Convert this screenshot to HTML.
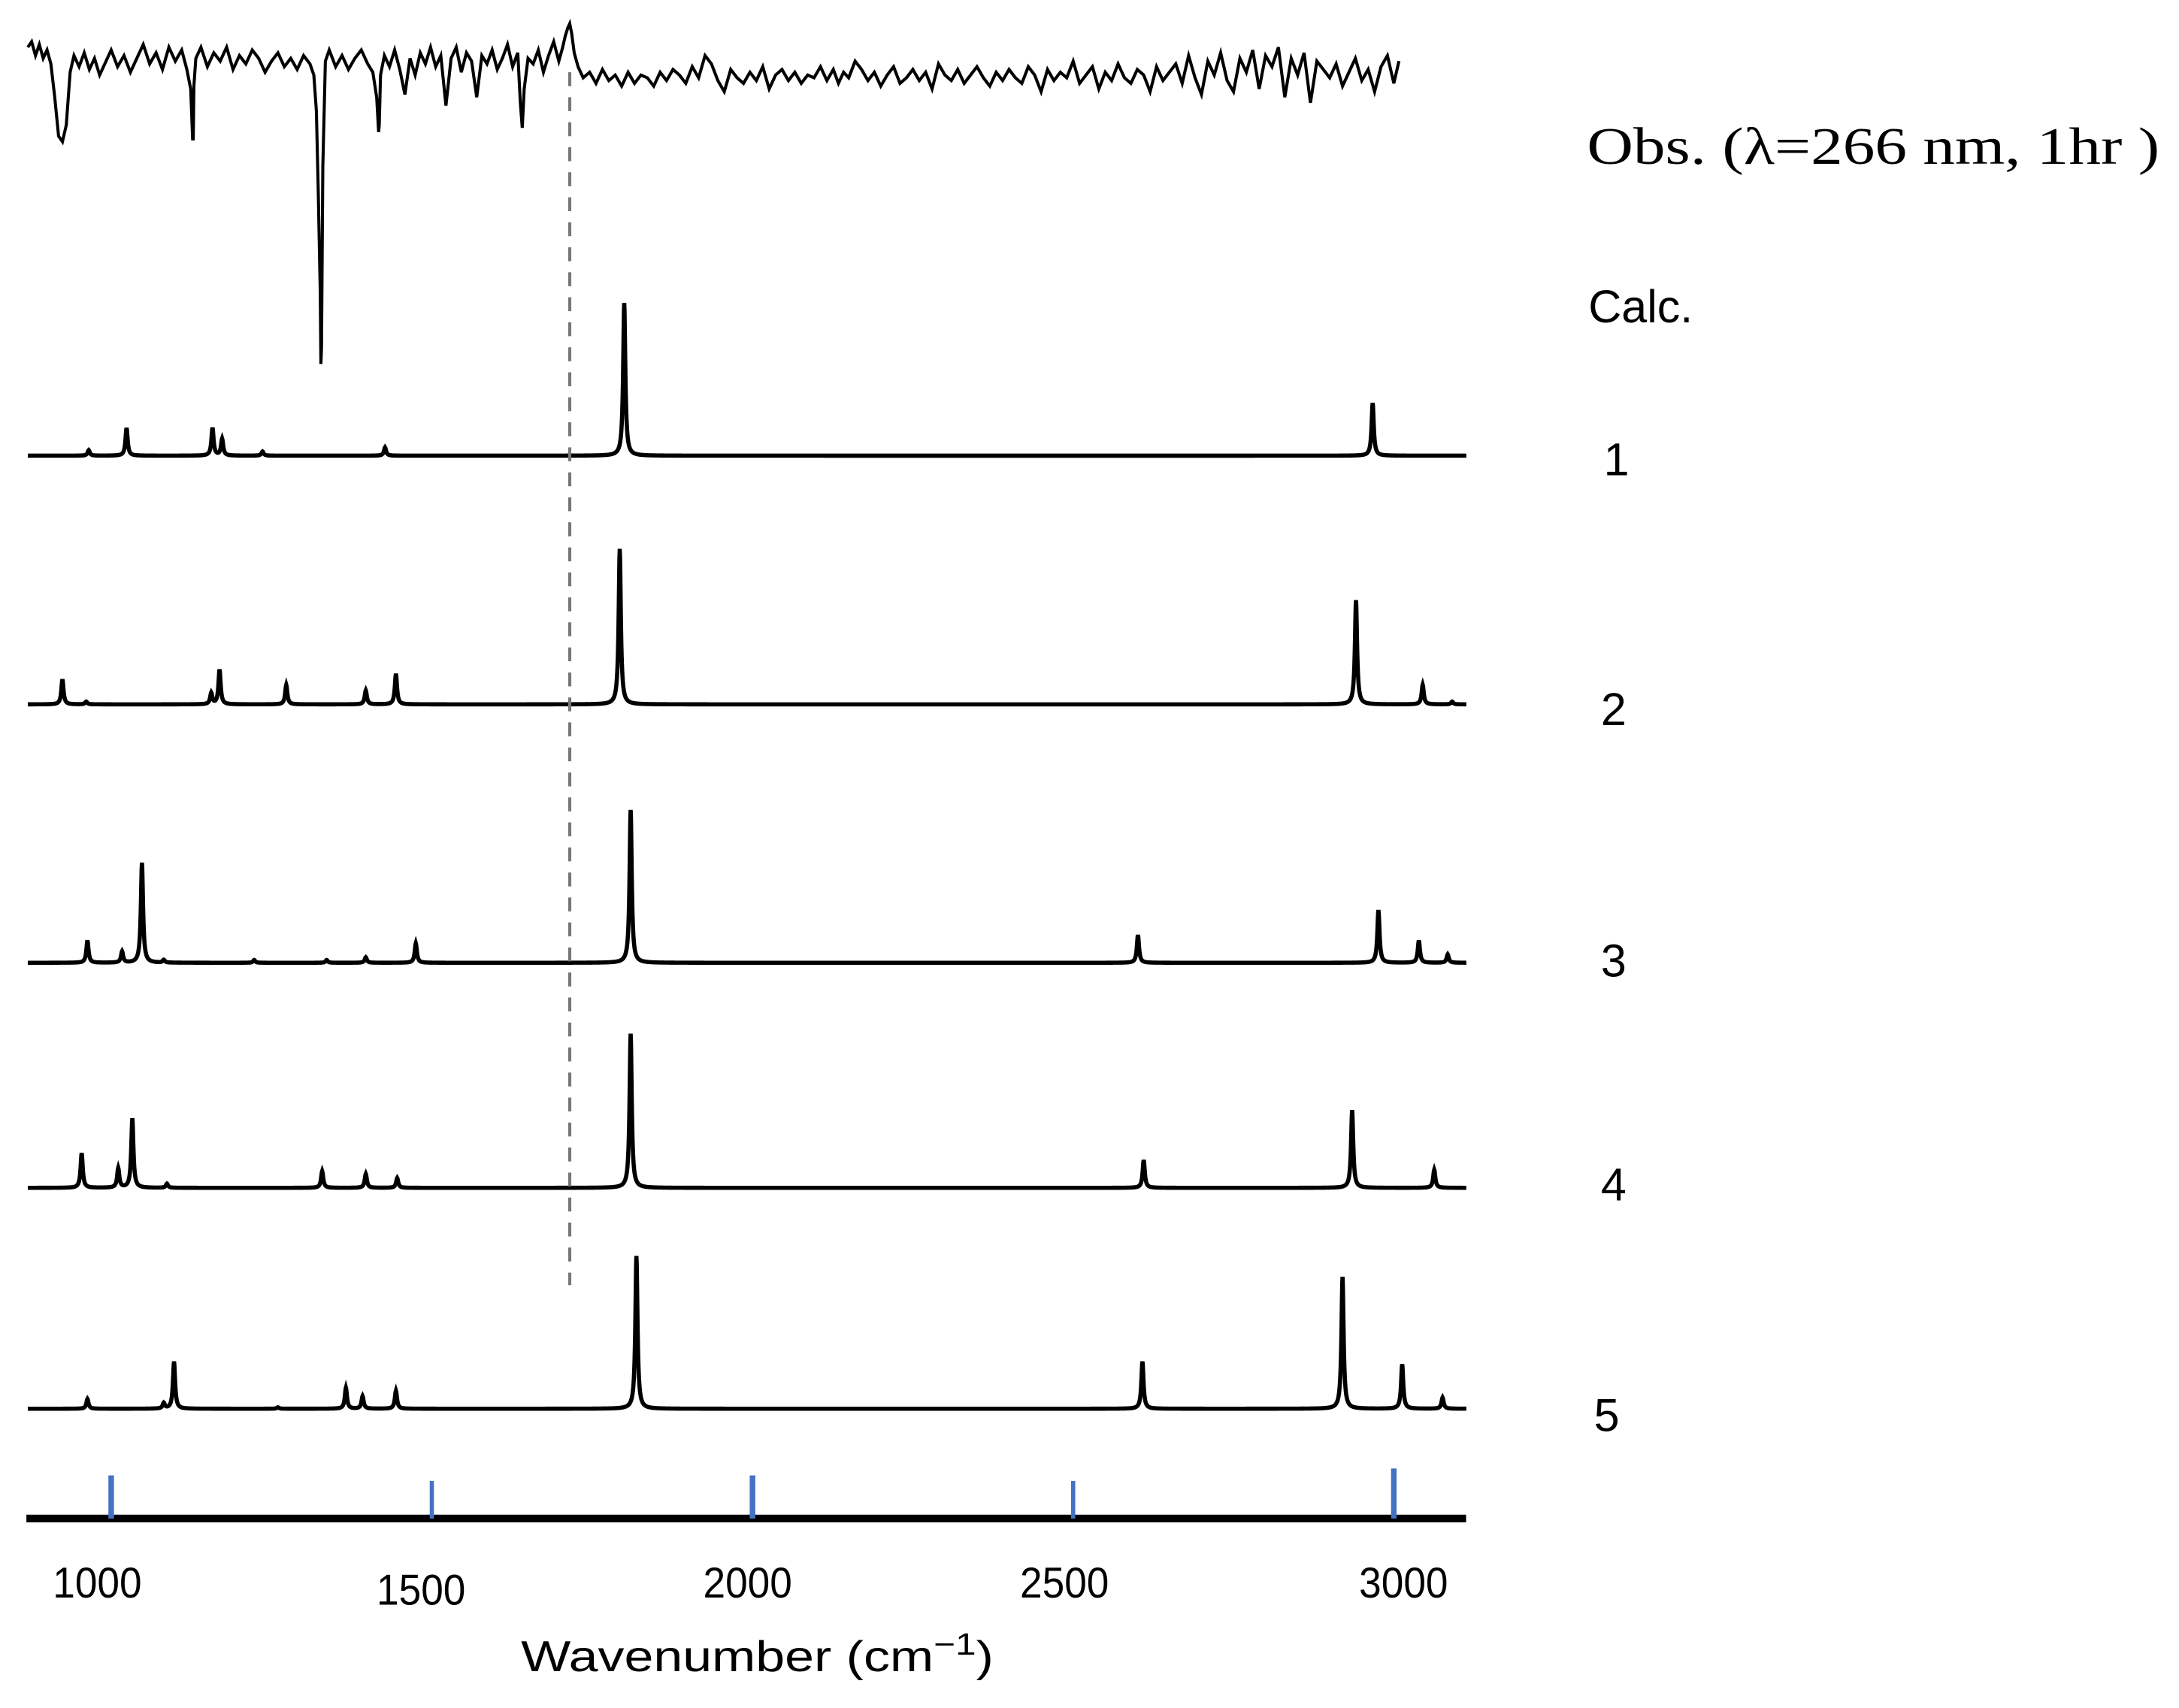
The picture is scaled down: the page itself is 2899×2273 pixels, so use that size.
<!DOCTYPE html>
<html><head><meta charset="utf-8"><style>
html,body{margin:0;padding:0;background:#fff;}
svg{display:block;}
</style></head><body>
<svg id="chart" width="2899" height="2273" viewBox="0 0 1568 1229.4" preserveAspectRatio="none" xmlns="http://www.w3.org/2000/svg">
<g id="calc"></g>
<g id="obs"></g>
<line x1="410" y1="52" x2="410" y2="925" stroke="#777" stroke-width="2.2" stroke-dasharray="10,8"/>
<line x1="19" y1="1093" x2="1055" y2="1093" stroke="#000" stroke-width="5.5"/>
<g id="ticks"></g>
<g font-family="Liberation Sans, sans-serif" font-size="31" fill="#000">
<text x="70" y="1150" text-anchor="middle" textLength="64" lengthAdjust="spacingAndGlyphs">1000</text>
<text x="303" y="1155" text-anchor="middle" textLength="64" lengthAdjust="spacingAndGlyphs">1500</text>
<text x="538" y="1150" text-anchor="middle" textLength="64" lengthAdjust="spacingAndGlyphs">2000</text>
<text x="766" y="1150" text-anchor="middle" textLength="64" lengthAdjust="spacingAndGlyphs">2500</text>
<text x="1010" y="1150" text-anchor="middle" textLength="64" lengthAdjust="spacingAndGlyphs">3000</text>
<text x="375" y="1203" textLength="340" lengthAdjust="spacingAndGlyphs">Wavenumber (cm<tspan font-size="22" dy="-12">−1</tspan><tspan dy="12">)</tspan></text>
<text x="1143" y="232" font-size="33">Calc.</text>
<text x="1154" y="342" font-size="33">1</text>
<text x="1152" y="522" font-size="33">2</text>
<text x="1152" y="703" font-size="33">3</text>
<text x="1152" y="864" font-size="33">4</text>
<text x="1147" y="1030" font-size="33">5</text>
</g>
<text x="1142" y="118" font-family="Liberation Serif, serif" font-size="38" textLength="412" lengthAdjust="spacingAndGlyphs">Obs. (λ=266 nm, 1hr )</text>
</svg>
<script>
// axis data
const tickValues=[1000,1500,2000,2500,3000];
const tickHeights=[31,27,31,27,36];
// calculated spectra: peak positions (cm-1) and heights
const calcBaselines=[328,507,693,855,1014];
const pos1=[965,1024,1158,1173,1236,1427,1800,2967];
const hgt1=[4,20,20,12,3,6,110,38];
const pos2=[924,961,1156,1169,1273,1397,1444,1793,2941,3045,3091];
const hgt2=[18,2,8,25,14,10,22,112,75,14,2];
const pos3=[963,1017,1048,1082,1223,1336,1397,1475,1810,2601,2976,3039,3084];
const hgt3=[16,8,72,2,2,2,4,14,110,20,38,16,6];
const pos4=[954,1011,1033,1087,1329,1397,1446,1810,2610,2935,3063];
const hgt4=[25,14,50,3,12,10,7,111,20,56,13];
const pos5=[963,1082,1098,1260,1366,1392,1444,1819,2608,2920,3013,3076];
const hgt5=[7,4,34,1,15,9,13,110,34,95,32,8];
// observed spectrum (signal, px units above y=60)
const obsWn=[870,876,882,888,894,900,906,912,918,924,930,936,942,950,958,966,974,982,990,1000,1010,1020,1030,1040,1050,1060,1070,1080,1090,1100,1110,1118,1124,1127,1128,1129,1132,1140,1150,1160,1170,1180,1190,1200,1210,1220,1230,1240,1250,1260,1270,1280,1290,1300,1310,1316,1320,1323,1326,1327,1328,1330,1334,1340,1350,1360,1370,1380,1390,1400,1408,1414,1417,1418,1420,1426,1434,1442,1450,1458,1466,1474,1482,1490,1498,1506,1514,1522,1530,1538,1546,1554,1562,1570,1578,1586,1594,1602,1610,1618,1626,1634,1638,1641,1644,1650,1658,1666,1674,1682,1690,1698,1704,1708,1712,1715,1718,1722,1728,1736,1746,1756,1766,1776,1786,1796,1806,1816,1826,1836,1846,1856,1866,1876,1886,1896,1906,1916,1926,1936,1946,1956,1966,1976,1986,1996,2006,2016,2026,2036,2046,2056,2066,2076,2086,2096,2106,2116,2126,2134,2142,2150,2160,2170,2180,2190,2200,2210,2220,2230,2240,2250,2260,2270,2280,2290,2300,2310,2320,2330,2340,2350,2360,2370,2380,2390,2400,2410,2420,2430,2440,2450,2460,2470,2480,2490,2500,2510,2520,2530,2540,2550,2560,2570,2580,2590,2600,2610,2620,2630,2640,2650,2660,2670,2680,2690,2700,2710,2720,2730,2740,2750,2760,2770,2780,2790,2800,2810,2820,2830,2840,2850,2860,2870,2880,2890,2900,2910,2920,2930,2940,2950,2960,2970,2980,2990,3000,3008];
const obsVal=[26,30,20,28,18,24,14,-10,-38,-42,-30,8,20,12,22,10,18,6,14,24,12,20,8,18,28,14,22,10,26,16,24,10,-4,-40,-40,-2,18,26,12,22,16,26,10,20,14,24,18,8,16,22,12,18,10,20,14,6,-20,-80,-150,-202,-190,-60,16,24,12,20,10,18,24,14,8,-10,-35,-30,6,20,12,24,10,-8,18,6,22,14,26,12,20,-16,18,26,8,22,16,-10,20,14,24,10,18,28,12,22,-14,-32,-4,18,14,24,8,20,30,16,26,34,40,43,36,22,12,4,8,0,10,2,6,-2,8,0,6,4,-2,8,2,10,6,0,12,4,20,14,2,-6,10,4,0,8,2,12,-4,6,10,2,8,0,6,4,12,2,10,0,8,4,16,10,2,8,-2,6,12,0,4,10,2,8,-4,14,6,2,10,0,6,12,4,-2,8,2,10,4,0,12,6,-6,10,2,8,4,16,0,6,12,-4,8,2,14,4,0,10,6,-6,12,2,8,14,0,20,4,-8,16,6,22,2,-6,18,8,24,-4,20,12,26,-10,18,6,22,-14,16,10,4,14,-2,8,18,2,10,-6,12,20,0,16,6,24,-4,14,22,2,-12,18,8,26,4,-8,16,10,2,12,6,14];
const NS='http://www.w3.org/2000/svg';
function xs(w){return 80+(w-1000)*0.4615;}
function yObs(v){return 60-v;}
const ticksG=document.getElementById('ticks');
tickValues.forEach((t,i)=>{
  const l=document.createElementNS(NS,'line');
  
  
  l.setAttribute('x1',xs(t));l.setAttribute('x2',xs(t));
  l.setAttribute('y1',1093-tickHeights[i]);l.setAttribute('y2',1093);
  l.setAttribute('stroke','#4472C4');l.setAttribute('stroke-width',i%2?3:4);
  ticksG.appendChild(l);
});
const calcG=document.getElementById('calc');
const allPos=[pos1,pos2,pos3,pos4,pos5],allH=[hgt1,hgt2,hgt3,hgt4,hgt5];
const g=2.0;
for(let s=0;s<5;s++){
  let d='';
  for(let w=870;w<=3113;w+=0.5){
    let v=0;
    for(let k=0;k<allPos[s].length;k++){const dd=w-allPos[s][k];v+=allH[s][k]*g*g/(dd*dd+g*g);}
    d+=(d?'L':'M')+xs(w).toFixed(2)+','+(calcBaselines[s]-v).toFixed(2);
  }
  const p=document.createElementNS(NS,'path');
  
  
  p.setAttribute('d',d);p.setAttribute('fill','none');p.setAttribute('stroke','#000');p.setAttribute('stroke-width','3');
  calcG.appendChild(p);
}
const nObs=Math.min(obsWn.length,obsVal.length);
let od='';
for(let i=0;i<nObs;i++){od+=(i?'L':'M')+xs(obsWn[i]).toFixed(2)+','+yObs(obsVal[i]).toFixed(2);}
const op=document.createElementNS(NS,'path');


op.setAttribute('d',od);op.setAttribute('fill','none');op.setAttribute('stroke','#000');op.setAttribute('stroke-width','2.2');
document.getElementById('obs').appendChild(op);
</script>
</body></html>
